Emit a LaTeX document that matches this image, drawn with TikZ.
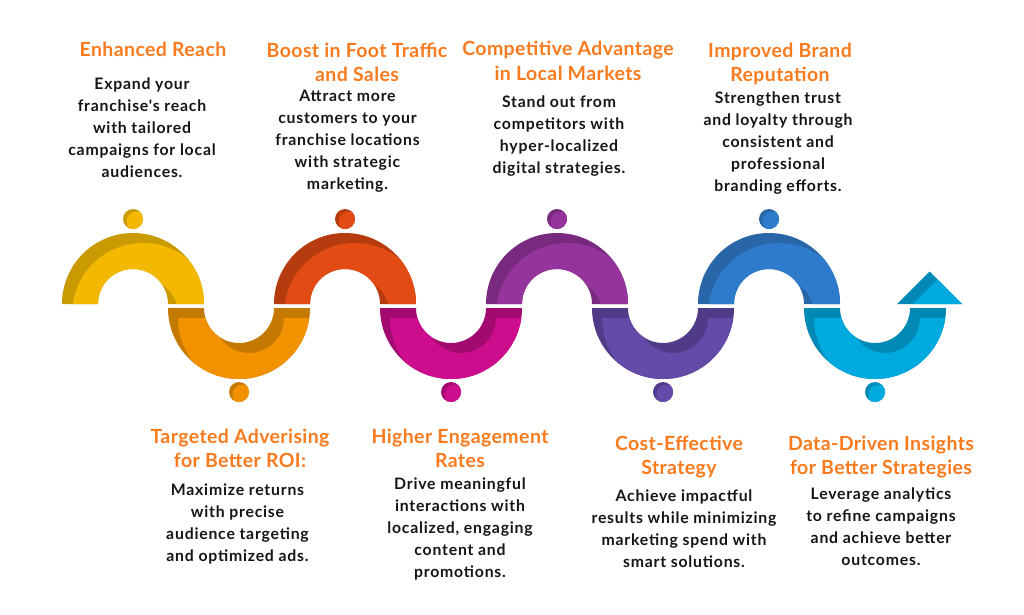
\documentclass[tikz,border=0pt]{standalone}
\usepackage{fontspec}
\setmainfont{Lato}
\newfontfamily\titlefont[LetterSpace=2]{Lato}
\newfontfamily\bodyfont[LetterSpace=5]{Lato}
\usepackage{tikz}

% segment colours (light face / dark rim)
\definecolor{ylwL}{HTML}{F5B800}
\definecolor{ylwD}{HTML}{C99A02}
\definecolor{orgL}{HTML}{F29200}
\definecolor{orgD}{HTML}{C47A00}
\definecolor{redL}{HTML}{E24B14}
\definecolor{redD}{HTML}{B63B0E}
\definecolor{magL}{HTML}{CC0E8E}
\definecolor{magD}{HTML}{A30A70}
\definecolor{purL}{HTML}{94349C}
\definecolor{purD}{HTML}{782A7E}
\definecolor{vioL}{HTML}{644BAA}
\definecolor{vioD}{HTML}{4F3B88}
\definecolor{bluL}{HTML}{2F7BCB}
\definecolor{bluD}{HTML}{2866A8}
\definecolor{cyaL}{HTML}{00A9DE}
\definecolor{cyaD}{HTML}{0089B5}
\definecolor{titleorange}{HTML}{FA7A1E}
\definecolor{bodyblack}{HTML}{151515}

% half rings of the wave
\newcommand{\archshape}[1]{(#1-71,304) arc[start angle=180, end angle=360, radius=71] -- (#1+35,304) arc[start angle=0, end angle=-180, radius=35] -- cycle}
\newcommand{\bowlshape}[1]{(#1-71,308) arc[start angle=180, end angle=0, radius=71] -- (#1+35,308) arc[start angle=0, end angle=180, radius=35] -- cycle}
\newcommand{\arrowshape}{(897,304) -- (962,304) -- (929.5,271.5) -- cycle}

\begin{document}
\begin{tikzpicture}[
    x=1pt, y=-1pt,
    title/.style={font=\titlefont\bfseries\fontsize{19.5}{24.5}\selectfont, text=titleorange, align=center, anchor=north, inner sep=0pt},
    body/.style={font=\bodyfont\bfseries\fontsize{15.8}{22}\selectfont, text=bodyblack, align=center, anchor=north, inner sep=0pt}
]
\useasboundingbox (0,0) rectangle (1024,614);

% Upper arches with their dots
\foreach \cx/\lc/\dc in {133/ylwL/ylwD, 345/redL/redD, 557/purL/purD, 769/bluL/bluD} {
    \fill[\dc] \archshape{\cx};
    \begin{scope}
        \clip \archshape{\cx};
        \fill[\lc, shift={(10,10)}] \archshape{\cx};
    \end{scope}
    \fill[\dc] (\cx,219) circle[radius=10];
    \begin{scope}
        \clip (\cx,219) circle[radius=10];
        \fill[\lc] (\cx+3.5,221.5) circle[radius=10];
    \end{scope}
}

% Lower bowls with their dots
\foreach \cx/\lc/\dc in {239/orgL/orgD, 451/magL/magD, 663/vioL/vioD, 875/cyaL/cyaD} {
    \fill[\dc] \bowlshape{\cx};
    \begin{scope}
        \clip \bowlshape{\cx};
        \fill[\lc, shift={(10,10)}] \bowlshape{\cx};
    \end{scope}
    \fill[\dc] (\cx,392) circle[radius=10];
    \begin{scope}
        \clip (\cx,392) circle[radius=10];
        \fill[\lc] (\cx+3.5,394.5) circle[radius=10];
    \end{scope}
}

% Arrow head at the end of the wave
\fill[cyaD] \arrowshape;
\begin{scope}
    \clip \arrowshape;
    \fill[cyaL, shift={(8,8)}] \arrowshape;
\end{scope}

% Top row texts
\node[title] (t1) at (153,42) {Enhanced Reach};
\node[body] (d1) at (142,77.5) {Expand your\\franchise's reach\\with tailored\\campaigns for local\\audiences.};

\node[title] (t2) at (357,42.5) {Boost in Foot Traffic\\and Sales};
\node[body] (d2) at (347.5,89.5) {Attract more\\customers to your\\franchise locations\\with strategic\\marketing.};

\node[title] (t3) at (568,41) {Competitive Advantage\\in Local Markets};
\node[body] (d3) at (559,96) {Stand out from\\competitors with\\hyper-localized\\digital strategies.};

\node[title] (t4) at (780,42.5) {Improved Brand\\Reputation};
\node[body] (d4) at (778,91.5) {Strengthen trust\\and loyalty through\\consistent and\\professional\\branding efforts.};

% Bottom row texts
\node[title] (t5) at (240,428.5) {Targeted Adverising\\for Better ROI:};
\node[body] (d5) at (237.5,483.5) {Maximize returns\\with precise\\audience targeting\\and optimized ads.};

\node[title] (t6) at (460,428.5) {Higher Engagement\\Rates};
\node[body] (d6) at (460,477.5) {Drive meaningful\\interactions with\\localized, engaging\\content and\\promotions.};

\node[title] (t7) at (679,435.5) {Cost-Effective\\Strategy};
\node[body] (d7) at (684,489.5) {Achieve impactful\\results while minimizing\\marketing spend with\\smart solutions.};

\node[title] (t8) at (881,435.5) {Data-Driven Insights\\for Better Strategies};
\node[body] (d8) at (881,487.5) {Leverage analytics\\to refine campaigns\\and achieve better\\outcomes.};

\end{tikzpicture}
\end{document}
